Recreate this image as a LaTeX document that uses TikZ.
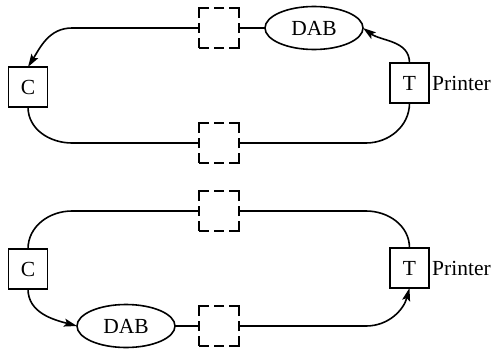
\documentclass[tikz,border=0pt]{standalone}
\usepackage{fontspec}
\setmainfont{Liberation Serif}
\usetikzlibrary{shapes.geometric,arrows.meta}
\begin{document}
\begin{tikzpicture}[x=1pt,y=1pt,
  every node/.style={font=\fontsize{21.5}{25}\selectfont},
  solidbox/.style={draw,line width=1.6pt,minimum width=39pt,minimum height=40pt,inner sep=0pt,outer sep=0pt},
  dashbox/.style={draw,line width=1.6pt,minimum width=40pt,minimum height=40pt,inner sep=0pt,outer sep=0pt,
    dash pattern=on 20pt off 5pt on 10pt off 5pt,dash phase=10pt},
  dab/.style={draw,ellipse,line width=1.6pt,minimum width=98pt,minimum height=43pt,inner sep=0pt,outer sep=0pt},
  link/.style={line width=1.6pt},
  tip/.style={-{Stealth[length=13pt,width=8pt,inset=2.5pt]}},
  lbl/.style={anchor=west,inner sep=0pt}]
\useasboundingbox (0,0) rectangle (497,349);
% top diagram
\node[solidbox] (C1) at (28,262) {C};
\node[dashbox] (D1a) at (219,321) {};
\node[dab] (DAB1) at (314,321) {DAB};
\node[solidbox] (T1) at (409.5,266) {T};
\node[lbl] (P1) at ([xshift=3pt]T1.east) {Printer};
\node[dashbox] (D1b) at (219,206) {};
\coordinate (a1) at (72,321);
\coordinate (b1) at (72,206);
\coordinate (c1) at (366,206);
\draw[link,tip] (D1a.west) -- (a1) to[out=180,in=58] (C1.north);
\draw[link] (D1a.east) -- (DAB1.west);
\draw[link,tip] (T1.north) to[out=90,in=-36] (DAB1.east);
\draw[link] (C1.south) to[out=-90,in=180] (b1) -- (D1b.west);
\draw[link] (D1b.east) -- (c1) to[out=0,in=-90] (T1.south);
% bottom diagram
\node[solidbox] (C2) at (28,80) {C};
\node[dashbox] (D2a) at (219,138) {};
\node[solidbox] (T2) at (409.5,81) {T};
\node[lbl] (P2) at ([xshift=3pt]T2.east) {Printer};
\node[dab] (DAB2) at (126,23) {DAB};
\node[dashbox] (D2b) at (219,23) {};
\coordinate (a2) at (72,138);
\coordinate (c2) at (366,138);
\coordinate (d2) at (366,23);
\draw[link] (C2.north) to[out=90,in=180] (a2) -- (D2a.west);
\draw[link] (D2a.east) -- (c2) to[out=0,in=90] (T2.north);
\draw[link,tip] (C2.south) to[out=-90,in=165] (DAB2.west);
\draw[link] (DAB2.east) -- (D2b.west);
\draw[link,tip] (D2b.east) -- (d2) to[out=0,in=-105] (T2.south);
\end{tikzpicture}
\end{document}
